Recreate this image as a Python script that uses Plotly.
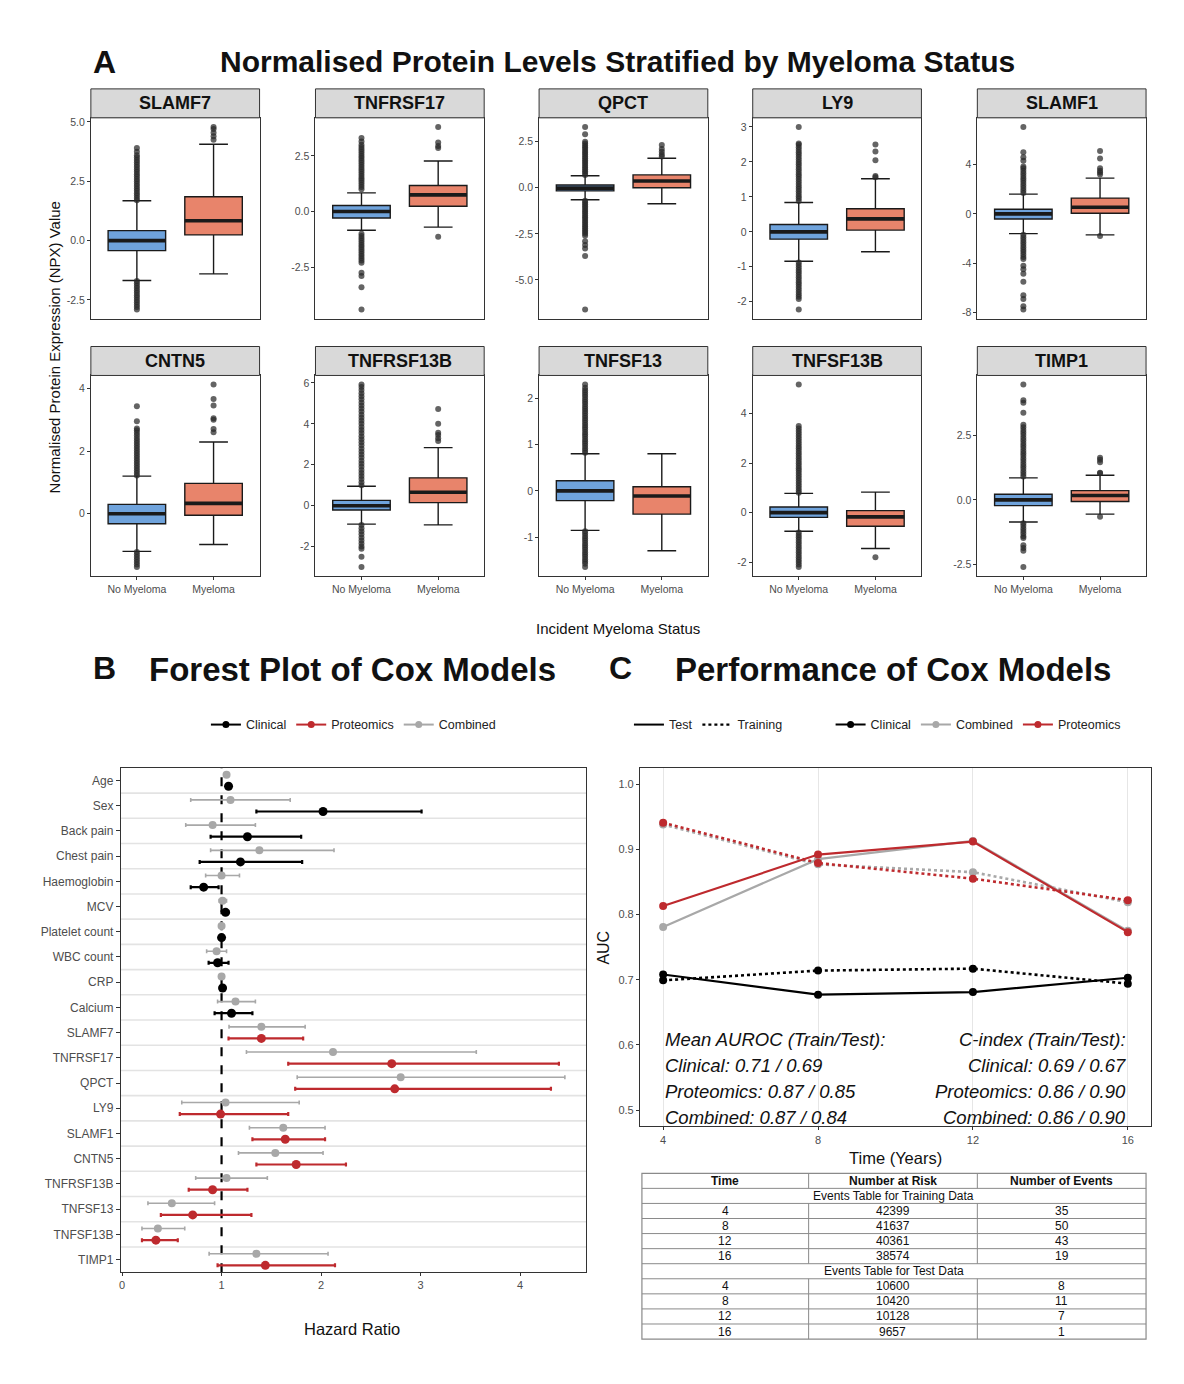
import plotly.graph_objects as go

# ======================= DATA =======================
# ---- Panel A: box statistics per protein ----
proteins = ["SLAMF7", "TNFRSF17", "QPCT", "LY9", "SLAMF1",
            "CNTN5", "TNFRSF13B", "TNFSF13", "TNFSF13B", "TIMP1"]
groups = ["No Myeloma", "Myeloma"]

no_q1 = [-0.42, -0.29, -0.17, -0.21, -0.41, -0.32, -0.21, -0.21, -0.19, -0.22]
no_med = [0.0, 0.0, -0.02, 0.0, 0.0, 0.0, 0.0, 0.0, 0.0, 0.0]
no_q3 = [0.42, 0.27, 0.15, 0.21, 0.38, 0.30, 0.26, 0.22, 0.23, 0.22]
no_lo = [-1.68, -0.84, -0.65, -0.84, -1.60, -1.20, -0.90, -0.85, -0.75, -0.85]
no_hi = [1.68, 0.84, 0.65, 0.84, 1.60, 1.20, 0.95, 0.80, 0.78, 0.85]

my_q1 = [0.24, 0.24, 0.00, 0.05, 0.05, -0.05, 0.15, -0.50, -0.55, -0.06]
my_med = [0.84, 0.75, 0.37, 0.37, 0.54, 0.33, 0.66, -0.11, -0.17, 0.17]
my_q3 = [1.85, 1.17, 0.70, 0.66, 1.28, 0.97, 1.36, 0.09, 0.08, 0.36]
my_lo = [-1.40, -0.70, -0.87, -0.57, -1.70, -0.98, -0.94, -1.29, -1.45, -0.55]
my_hi = [4.06, 2.27, 1.60, 1.52, 2.90, 2.29, 2.84, 0.80, 0.83, 0.95]

out_no_slamf7 = [1.7, 1.8, 1.9, 2.0, 2.1, 2.2, 2.3, 2.4, 2.5, 2.6, 2.7, 2.8, 2.9, 3.0, 3.1, 3.2, 3.3, 3.4,
                 3.5, 3.6, 3.75, 3.9, -1.7, -1.8, -1.9, -2.0, -2.1, -2.2, -2.3, -2.4, -2.5, -2.6, -2.7,
                 -2.8, -2.9]
out_my_slamf7 = [4.25, 4.4, 4.55, 4.7, 4.79]
out_no_tnfrsf17 = [1.0, 1.1, 1.2, 1.3, 1.4, 1.5, 1.6, 1.7, 1.8, 1.9, 2.0, 2.1, 2.2, 2.3, 2.4, 2.5, 2.6, 2.7,
                   2.8, 2.9, 3.0, 3.15, 3.3, -1.0, -1.1, -1.2, -1.3, -1.4, -1.5, -1.6, -1.7, -1.8, -1.9,
                   -2.0, -2.1, -2.2, -2.3, -2.75, -2.9, -3.4, -4.4]
out_my_tnfrsf17 = [2.85, 2.95, 3.1, 3.8, -1.13]
out_no_qpct = [0.7, 0.8, 0.9, 1.0, 1.1, 1.2, 1.3, 1.4, 1.5, 1.6, 1.7, 1.8, 1.9, 2.0, 2.1, 2.2, 2.3, 2.4,
               2.5, 2.9, 3.3, -0.7, -0.8, -0.9, -1.0, -1.1, -1.2, -1.3, -1.4, -1.5, -1.6, -1.7, -1.8,
               -1.9, -2.0, -2.1, -2.2, -2.3, -2.4, -2.5, -2.6, -2.9, -3.1, -3.3, -3.7, -6.6]
out_my_qpct = [1.7, 1.8, 1.95, 2.1, 2.32]
out_no_ly9 = [0.88, 0.95, 1.02, 1.09, 1.16, 1.23, 1.30, 1.37, 1.44, 1.51, 1.58, 1.65, 1.72, 1.79, 1.86,
              1.93, 2.00, 2.07, 2.14, 2.21, 2.28, 2.35, 2.42, 2.49, 2.53, 3.0, -0.88, -0.95, -1.02,
              -1.09, -1.16, -1.23, -1.30, -1.37, -1.44, -1.51, -1.58, -1.65, -1.72, -1.79, -1.86,
              -1.92, -2.22]
out_my_ly9 = [1.56, 1.6, 2.05, 2.3, 2.5]
out_no_slamf1 = [1.7, 1.9, 2.1, 2.3, 2.5, 2.7, 2.9, 3.1, 3.3, 3.5, 3.7, 3.85, 4.3, 4.6, 5.0, 7.05,
                 -1.7, -1.9, -2.1, -2.3, -2.5, -2.7, -2.9, -3.1, -3.3, -3.5, -3.65, -4.2, -4.5,
                 -4.85, -5.5, -6.6, -6.9, -7.5, -7.75]
out_my_slamf1 = [3.2, 3.35, 3.5, 3.7, 4.5, 5.1, -1.8]
out_no_cntn5 = [1.22, 1.30, 1.38, 1.46, 1.54, 1.62, 1.70, 1.78, 1.86, 1.94, 2.02, 2.10, 2.18, 2.26,
                2.34, 2.42, 2.50, 2.58, 2.66, 2.72, 2.95, 3.43, -1.22, -1.30, -1.38, -1.46, -1.54,
                -1.62, -1.70]
out_my_cntn5 = [2.6, 2.7, 3.0, 3.05, 3.45, 3.66, 4.12]
out_no_tnfrsf13b = [1.0, 1.15, 1.3, 1.45, 1.6, 1.75, 1.9, 2.05, 2.2, 2.35, 2.5, 2.65, 2.8, 2.95, 3.1,
                    3.25, 3.4, 3.55, 3.7, 3.85, 4.0, 4.15, 4.3, 4.45, 4.6, 4.75, 4.9, 5.05, 5.2, 5.35,
                    5.5, 5.65, 5.8, 5.92, -0.95, -1.1, -1.25, -1.4, -1.55, -1.7, -1.85, -2.0, -2.1,
                    -2.5, -3.0]
out_my_tnfrsf13b = [3.16, 3.3, 3.45, 3.57, 4.0, 4.73]
out_no_tnfsf13 = [0.82, 0.87, 0.92, 0.97, 1.02, 1.07, 1.12, 1.17, 1.22, 1.27, 1.32, 1.37, 1.42, 1.47,
                  1.52, 1.57, 1.62, 1.67, 1.72, 1.77, 1.82, 1.87, 1.92, 1.97, 2.02, 2.07, 2.12, 2.17,
                  2.22, 2.29, -0.87, -0.92, -0.97, -1.02, -1.07, -1.12, -1.17, -1.22, -1.27, -1.32,
                  -1.37, -1.42, -1.47, -1.52, -1.57, -1.64]
out_my_tnfsf13 = []
out_no_tnfsf13b = [0.8, 0.9, 1.0, 1.1, 1.2, 1.3, 1.4, 1.5, 1.6, 1.7, 1.8, 1.9, 2.0, 2.1, 2.2, 2.3, 2.4,
                   2.5, 2.6, 2.7, 2.8, 2.9, 3.0, 3.1, 3.2, 3.3, 3.4, 3.5, 5.18, -0.8, -0.9, -1.0, -1.1,
                   -1.2, -1.3, -1.4, -1.5, -1.6, -1.7, -1.8, -1.9, -2.0, -2.1, -2.2]
out_my_tnfsf13b = [-1.8]
out_no_timp1 = [0.9, 1.0, 1.1, 1.2, 1.3, 1.4, 1.5, 1.6, 1.7, 1.8, 1.9, 2.0, 2.1, 2.2, 2.3, 2.4, 2.5, 2.6,
                2.7, 2.8, 2.9, 3.36, 3.75, 3.85, 4.45, -0.9, -1.0, -1.1, -1.2, -1.3, -1.4, -1.47, -1.75,
                -1.86, -1.96, -2.59]
out_my_timp1 = [1.03, 1.05, 1.45, 1.55, 1.63, -0.65]

no_outliers = [out_no_slamf7, out_no_tnfrsf17, out_no_qpct, out_no_ly9, out_no_slamf1,
               out_no_cntn5, out_no_tnfrsf13b, out_no_tnfsf13, out_no_tnfsf13b, out_no_timp1]
my_outliers = [out_my_slamf7, out_my_tnfrsf17, out_my_qpct, out_my_ly9, out_my_slamf1,
               out_my_cntn5, out_my_tnfrsf13b, out_my_tnfsf13, out_my_tnfsf13b, out_my_timp1]

# ---- Panel B: hazard ratios ----
clinical_vars = ["Age", "Sex", "Back pain", "Chest pain", "Haemoglobin", "MCV",
                 "Platelet count", "WBC count", "CRP", "Calcium"]
forest_vars = clinical_vars + proteins

clin_hr = [1.07, 2.02, 1.26, 1.19, 0.82, 1.04, 1.00, 0.96, 1.01, 1.10]
clin_lo = [1.05, 1.35, 0.89, 0.78, 0.69, 1.00, 0.99, 0.87, 0.99, 0.93]
clin_hi = [1.09, 3.01, 1.80, 1.81, 0.97, 1.07, 1.01, 1.07, 1.03, 1.31]

comb_hr = [1.05, 1.09, 0.91, 1.38, 1.00, 1.01, 1.00, 0.95, 1.00, 1.14,
           1.40, 2.12, 2.80, 1.04, 1.62, 1.54, 1.05, 0.50, 0.36, 1.35]
comb_lo = [1.03, 0.69, 0.64, 0.89, 0.84, 0.975, 0.99, 0.85, 0.98, 0.96,
           1.075, 1.25, 1.76, 0.60, 1.28, 1.17, 0.74, 0.26, 0.20, 0.875]
comb_hi = [1.07, 1.69, 1.34, 2.13, 1.18, 1.05, 1.01, 1.05, 1.02, 1.34,
           1.84, 3.56, 4.45, 1.78, 2.04, 2.02, 1.46, 0.93, 0.63, 2.07]

prot_hr = [1.40, 2.71, 2.74, 0.99, 1.64, 1.75, 0.91, 0.71, 0.34, 1.44]
prot_lo = [1.07, 1.67, 1.74, 0.58, 1.31, 1.35, 0.67, 0.39, 0.20, 0.96]
prot_hi = [1.82, 4.39, 4.31, 1.67, 2.04, 2.25, 1.26, 1.30, 0.56, 2.14]

# ---- Panel C: AUC over time ----
years = [4, 8, 12, 16]
auc_clin_test = [0.708, 0.677, 0.681, 0.703]
auc_clin_train = [0.699, 0.714, 0.717, 0.694]
auc_comb_test = [0.781, 0.885, 0.913, 0.775]
auc_comb_train = [0.938, 0.877, 0.865, 0.819]
auc_prot_test = [0.813, 0.892, 0.912, 0.773]
auc_prot_train = [0.941, 0.879, 0.855, 0.822]

summary_models = ["Clinical", "Proteomics", "Combined"]
auroc_train = [0.71, 0.87, 0.87]
auroc_test = [0.69, 0.85, 0.84]
cindex_train = [0.69, 0.86, 0.86]
cindex_test = [0.67, 0.90, 0.90]

# ---- Events table ----
table_header = ["Time", "Number at Risk", "Number of Events"]
table_times = [4, 8, 12, 16]
train_at_risk = [42399, 41637, 40361, 38574]
train_events = [35, 50, 43, 19]
test_at_risk = [10600, 10420, 10128, 9657]
test_events = [8, 11, 7, 1]

# ======================= STYLE / LAYOUT =======================
PAGE_W, PAGE_H = 1184, 1384
PAD = 8  # browser default body margin
W, H = PAGE_W - 2 * PAD, PAGE_H - 2 * PAD
FONT = "Liberation Sans, Arial, Helvetica, sans-serif"
DARK = "#1A1A1A"
TICKC = "#4D4D4D"
BLUE = "#6FA3DC"
SALMON = "#E8846B"
RED = "#BE2A2E"
GREY = "#A8A8A8"


def fx(p):
    return (p - PAD) / W


def fy(p):
    return 1 - (p - PAD) / H


def fmt_tick(v, dt):
    return f"{v:.1f}" if dt != int(dt) else f"{int(round(v))}"


fig = go.Figure()
layout = {}
shapes = []
annotations = []

# ---------------- Panel A ----------------
cols_px = [(89, 258), (314, 483), (538, 707), (752, 921), (977, 1146)]
rows_px = [(87, 116, 317), (345, 374, 575)]
dticks = [2.5, 2.5, 2.5, 1, 4, 2, 2, 1, 2, 2.5]

for i, name in enumerate(proteins):
    r, c = divmod(i, 5)
    n = i + 1
    xk = "x" if n == 1 else f"x{n}"
    yk = "y" if n == 1 else f"y{n}"
    xl = "xaxis" if n == 1 else f"xaxis{n}"
    yl = "yaxis" if n == 1 else f"yaxis{n}"
    left, right = cols_px[c]
    stop, ptop, pbot = rows_px[r]

    sets = [
        (no_q1[i], no_med[i], no_q3[i], no_lo[i], no_hi[i], no_outliers[i], BLUE),
        (my_q1[i], my_med[i], my_q3[i], my_lo[i], my_hi[i], my_outliers[i], SALMON),
    ]
    allv = []
    for g, (q1, med, q3, lo, hi, outs, col) in enumerate(sets):
        xpos = g + 1
        allv += [lo, hi] + list(outs)
        if outs:
            fig.add_trace(go.Scatter(
                x=[xpos] * len(outs), y=outs, mode="markers",
                marker=dict(size=6, color="rgba(40,40,40,0.72)", line=dict(width=0)),
                xaxis=xk, yaxis=yk, showlegend=False, hoverinfo="skip"))
        fig.add_trace(go.Box(
            x=[xpos], q1=[q1], median=[med], q3=[q3], lowerfence=[lo], upperfence=[hi],
            width=0.75, fillcolor=col, line=dict(color=DARK, width=1.4),
            boxpoints=False, xaxis=xk, yaxis=yk, showlegend=False, hoverinfo="skip"))
        fig.add_trace(go.Scatter(
            x=[xpos - 0.375, xpos + 0.375], y=[med, med], mode="lines",
            line=dict(color=DARK, width=3.6), xaxis=xk, yaxis=yk,
            showlegend=False, hoverinfo="skip"))

    vmin, vmax = min(allv), max(allv)
    span = vmax - vmin
    rng = [vmin - 0.05 * span, vmax + 0.05 * span]
    dt = dticks[i]
    k = int(-(-rng[0] // dt))
    tv = []
    while k * dt <= rng[1]:
        tv.append(k * dt)
        k += 1
    tt = [fmt_tick(v, dt) for v in tv]

    layout[xl] = dict(
        domain=[fx(left), fx(right)], anchor=yk, range=[0.4, 2.6],
        tickvals=[1, 2], ticktext=groups, showticklabels=(r == 1),
        ticks="outside" if r == 1 else "", ticklen=3, tickcolor="#333",
        tickfont=dict(size=10.5, color=TICKC),
        showline=True, mirror=True, linecolor="#333", linewidth=1,
        showgrid=False, zeroline=False, fixedrange=True)
    layout[yl] = dict(
        domain=[fy(pbot), fy(ptop)], anchor=xk, range=rng,
        tickvals=tv, ticktext=tt, ticks="outside", ticklen=3, tickcolor="#333",
        tickfont=dict(size=10.5, color=TICKC),
        showline=True, mirror=True, linecolor="#333", linewidth=1,
        showgrid=False, zeroline=False, fixedrange=True)

    shapes.append(dict(type="rect", xref="paper", yref="paper",
                       x0=fx(left), x1=fx(right), y0=fy(ptop), y1=fy(stop),
                       fillcolor="#D9D9D9", line=dict(color="#333", width=1)))
    annotations.append(dict(text=f"<b>{name}</b>", xref="paper", yref="paper",
                            x=fx((left + right) / 2), y=fy((stop + ptop) / 2),
                            showarrow=False, font=dict(size=18, color="#111"),
                            xanchor="center", yanchor="middle"))

# ---------------- Panel B ----------------
nrow = len(forest_vars)
ypos = [nrow - k for k in range(nrow)]
off = 0.23
fx_min = min(comb_lo + clin_lo + prot_lo)
fx_max = max(comb_hi + clin_hi + prot_hi)
fspan = fx_max - fx_min
b_range = [fx_min - 0.05 * fspan, fx_max + 0.05 * fspan]

fig.add_trace(go.Scatter(
    x=comb_hr, y=[p + off for p in ypos], mode="markers",
    marker=dict(size=8, color=GREY),
    error_x=dict(type="data", symmetric=False,
                 array=[h - m for h, m in zip(comb_hi, comb_hr)],
                 arrayminus=[m - l for m, l in zip(comb_hr, comb_lo)],
                 color=GREY, thickness=1.6, width=2),
    xaxis="x11", yaxis="y11", showlegend=False, hoverinfo="skip"))
fig.add_trace(go.Scatter(
    x=clin_hr, y=[p - off for p in ypos[:len(clinical_vars)]], mode="markers",
    marker=dict(size=9, color="black"),
    error_x=dict(type="data", symmetric=False,
                 array=[h - m for h, m in zip(clin_hi, clin_hr)],
                 arrayminus=[m - l for m, l in zip(clin_hr, clin_lo)],
                 color="black", thickness=2.2, width=2),
    xaxis="x11", yaxis="y11", showlegend=False, hoverinfo="skip"))
fig.add_trace(go.Scatter(
    x=prot_hr, y=[p - off for p in ypos[len(clinical_vars):]], mode="markers",
    marker=dict(size=9, color=RED),
    error_x=dict(type="data", symmetric=False,
                 array=[h - m for h, m in zip(prot_hi, prot_hr)],
                 arrayminus=[m - l for m, l in zip(prot_hr, prot_lo)],
                 color=RED, thickness=2.2, width=2),
    xaxis="x11", yaxis="y11", showlegend=False, hoverinfo="skip"))

for b in ypos[:-1]:
    shapes.append(dict(type="line", xref="x11 domain", yref="y11", x0=0, x1=1,
                       y0=b - 0.5, y1=b - 0.5, line=dict(color="#E3E3E3", width=1.6),
                       layer="below"))
shapes.append(dict(type="line", xref="x11", yref="y11 domain", x0=1, x1=1, y0=0, y1=1,
                   line=dict(color="black", width=2.2, dash="dash"), layer="below"))

layout["xaxis11"] = dict(domain=[fx(119), fx(585)], anchor="y11", range=b_range,
                         tickvals=[0, 1, 2, 3, 4], ticks="outside", ticklen=3,
                         tickcolor="#333", tickfont=dict(size=11, color=TICKC),
                         showline=True, mirror=True, linecolor="#333", linewidth=1,
                         showgrid=False, zeroline=False)
layout["yaxis11"] = dict(domain=[fy(1272), fy(767)], anchor="x11",
                         range=[0.5, nrow + 0.5], tickvals=ypos, ticktext=forest_vars,
                         ticks="outside", ticklen=4, tickcolor="#333",
                         tickfont=dict(size=12, color=TICKC),
                         showline=True, mirror=True, linecolor="#333", linewidth=1,
                         showgrid=False, zeroline=False)

# legend entries for B
for nm, col in [("Clinical", "black"), ("Proteomics", RED), ("Combined", GREY)]:
    fig.add_trace(go.Scatter(x=[None], y=[None], mode="lines+markers", name=nm,
                             line=dict(color=col, width=2), marker=dict(size=7, color=col),
                             xaxis="x11", yaxis="y11", legend="legend"))

# ---------------- Panel C ----------------
c_series = [
    ("Clinical", "black", auc_clin_test, auc_clin_train),
    ("Combined", GREY, auc_comb_test, auc_comb_train),
    ("Proteomics", RED, auc_prot_test, auc_prot_train),
]
for nm, col, te, tr in c_series:
    fig.add_trace(go.Scatter(x=years, y=tr, mode="lines+markers",
                             line=dict(color=col, width=2.6, dash="dot"),
                             marker=dict(size=8, color=col),
                             xaxis="x12", yaxis="y12", showlegend=False, hoverinfo="skip"))
    fig.add_trace(go.Scatter(x=years, y=te, mode="lines+markers",
                             line=dict(color=col, width=2.2),
                             marker=dict(size=8, color=col),
                             xaxis="x12", yaxis="y12", showlegend=False, hoverinfo="skip"))

layout["xaxis12"] = dict(domain=[fx(639), fx(1151)], anchor="y12", range=[3.4, 16.6],
                         tickvals=years, ticks="outside", ticklen=3, tickcolor="#333",
                         tickfont=dict(size=11, color=TICKC),
                         showline=True, mirror=True, linecolor="#333", linewidth=1,
                         showgrid=True, gridcolor="#E6E6E6", gridwidth=1, zeroline=False)
layout["yaxis12"] = dict(domain=[fy(1126), fy(767)], anchor="x12", range=[0.475, 1.025],
                         tickvals=[0.5, 0.6, 0.7, 0.8, 0.9, 1.0],
                         ticktext=["0.5", "0.6", "0.7", "0.8", "0.9", "1.0"],
                         ticks="outside", ticklen=3, tickcolor="#333",
                         tickfont=dict(size=11, color=TICKC),
                         showline=True, mirror=True, linecolor="#333", linewidth=1,
                         showgrid=False, zeroline=False)

# legend entries for C
fig.add_trace(go.Scatter(x=[None], y=[None], mode="lines", name="Test",
                         line=dict(color="black", width=2), xaxis="x12", yaxis="y12",
                         legend="legend2"))
fig.add_trace(go.Scatter(x=[None], y=[None], mode="lines", name="Training",
                         line=dict(color="black", width=2.4, dash="dot"), xaxis="x12",
                         yaxis="y12", legend="legend2"))
for nm, col, _, _ in c_series:
    fig.add_trace(go.Scatter(x=[None], y=[None], mode="lines+markers", name=nm,
                             line=dict(color=col, width=2), marker=dict(size=7, color=col),
                             xaxis="x12", yaxis="y12", legend="legend3"))

# summary text in panel C
left_lines = ["Mean AUROC (Train/Test):"] + [
    f"{m}: {a:.2f} / {b:.2f}" for m, a, b in zip(summary_models, auroc_train, auroc_test)]
right_lines = ["C-index (Train/Test):"] + [
    f"{m}: {a:.2f} / {b:.2f}" for m, a, b in zip(summary_models, cindex_train, cindex_test)]
line_y = [1039, 1065, 1091, 1117]
for t, py in zip(left_lines, line_y):
    annotations.append(dict(text=f"<i>{t}</i>", xref="x12", yref="paper", x=years[0],
                            y=fy(py), xanchor="left", yanchor="middle", showarrow=False,
                            font=dict(size=18.5, color="#111")))
for t, py in zip(right_lines, line_y):
    annotations.append(dict(text=f"<i>{t}</i>", xref="x12", yref="paper", x=years[-1],
                            y=fy(py), xanchor="right", yanchor="middle", showarrow=False,
                            font=dict(size=18.5, color="#111")))

# ---------------- Events table ----------------
tcols = [641, 808, 977, 1146]
ttop, tbot = 1173, 1339
table_rows = [("header", table_header), ("section", "Events Table for Training Data")]
for t, a, e in zip(table_times, train_at_risk, train_events):
    table_rows.append(("data", [str(t), str(a), str(e)]))
table_rows.append(("section", "Events Table for Test Data"))
for t, a, e in zip(table_times, test_at_risk, test_events):
    table_rows.append(("data", [str(t), str(a), str(e)]))
rh = (tbot - ttop) / len(table_rows)
LINEC = "#8A8A8A"
for k, (kind, content) in enumerate(table_rows):
    y0 = ttop + k * rh
    yc = y0 + rh / 2
    if k > 0:
        shapes.append(dict(type="line", xref="paper", yref="paper", x0=fx(tcols[0]),
                           x1=fx(tcols[-1]), y0=fy(y0), y1=fy(y0),
                           line=dict(color=LINEC, width=1)))
    if kind == "section":
        annotations.append(dict(text=content, xref="paper", yref="paper",
                                x=fx((tcols[0] + tcols[-1]) / 2), y=fy(yc),
                                showarrow=False, font=dict(size=12, color="#111"),
                                xanchor="center", yanchor="middle"))
    else:
        for j in range(3):
            txt = f"<b>{content[j]}</b>" if kind == "header" else content[j]
            annotations.append(dict(text=txt, xref="paper", yref="paper",
                                    x=fx((tcols[j] + tcols[j + 1]) / 2), y=fy(yc),
                                    showarrow=False, font=dict(size=12, color="#111"),
                                    xanchor="center", yanchor="middle"))
        for xc in tcols[1:-1]:
            shapes.append(dict(type="line", xref="paper", yref="paper", x0=fx(xc), x1=fx(xc),
                               y0=fy(y0), y1=fy(y0 + rh), line=dict(color=LINEC, width=1)))
shapes.append(dict(type="rect", xref="paper", yref="paper", x0=fx(tcols[0]), x1=fx(tcols[-1]),
                   y0=fy(tbot), y1=fy(ttop), line=dict(color=LINEC, width=1.2)))


# ---------------- Titles & axis titles ----------------
def ann(text, x, y, size, angle=0, xanchor="center", color="#111"):
    annotations.append(dict(text=text, xref="paper", yref="paper", x=fx(x), y=fy(y),
                            showarrow=False, font=dict(size=size, color=color),
                            xanchor=xanchor, yanchor="middle", textangle=angle))


ann("<b>A</b>", 103, 60, 32)
ann("<b>Normalised Protein Levels Stratified by Myeloma Status</b>", 617, 60, 30)
ann("<b>B</b>", 103, 667, 32)
ann("<b>Forest Plot of Cox Models</b>", 351, 668, 33)
ann("<b>C</b>", 620, 667, 32)
ann("<b>Performance of Cox Models</b>", 893, 668, 33)
ann("Normalised Protein Expression (NPX) Value", 53, 346, 15, angle=-90)
ann("Incident Myeloma Status", 617, 627, 15)
ann("Hazard Ratio", 351, 1329, 16.5)
ann("AUC", 603, 947, 16, angle=-90)
ann("Time (Years)", 895, 1158, 16.5)

leg_common = dict(orientation="h", yanchor="middle", y=fy(724), bgcolor="rgba(0,0,0,0)",
                  font=dict(size=12.5, color="#222", family=FONT), itemwidth=30,
                  tracegroupgap=0, itemclick=False, itemdoubleclick=False)
layout["legend"] = dict(leg_common, x=fx(352), xanchor="center")
layout["legend2"] = dict(leg_common, x=fx(628), xanchor="left")
layout["legend3"] = dict(leg_common, x=fx(830), xanchor="left")

fig.update_layout(
    width=W, height=H, margin=dict(l=0, r=0, t=0, b=0),
    paper_bgcolor="white", plot_bgcolor="white",
    font=dict(family=FONT, color="#111"),
    showlegend=True, shapes=shapes, annotations=annotations,
    **layout)

fig.write_html("out.html")
